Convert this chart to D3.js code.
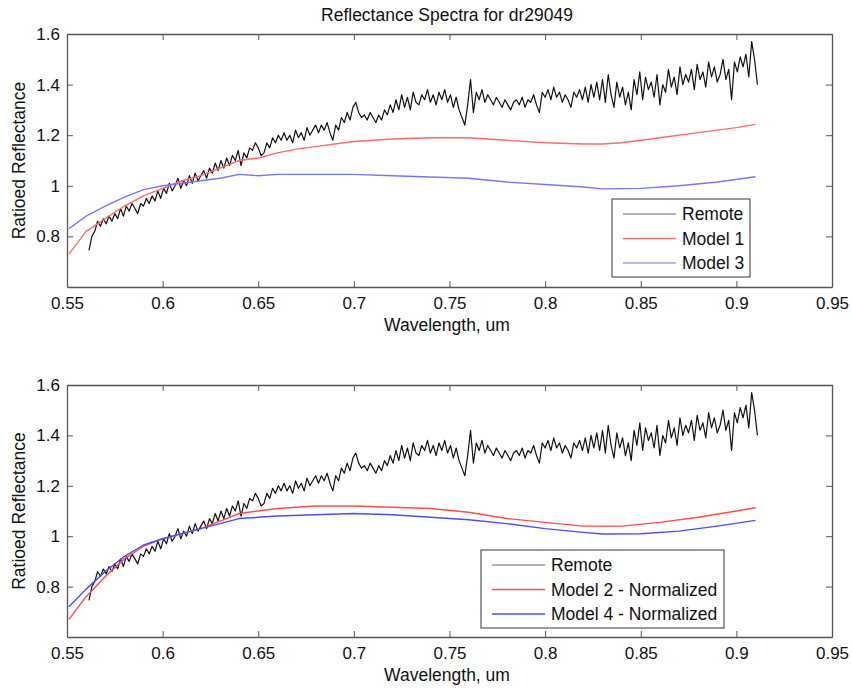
<!DOCTYPE html>
<html><head><meta charset="utf-8">
<script src="https://cdn.jsdelivr.net/npm/d3@7"></script>
<style>body{margin:0;background:#fff}svg{display:block}text{font-family:"Liberation Sans",Arial,sans-serif;fill:#111}</style>
</head><body>
<script>
const titleText = "Reflectance Spectra for dr29049";
const xLabel = "Wavelength, um";
const yLabel = "Ratioed Reflectance";
const xTicks = [0.55,0.6,0.65,0.7,0.75,0.8,0.85,0.9,0.95];
const yTicks = [0.8,1,1.2,1.4,1.6];

// Remote spectrum: uniform wavelength grid
const remoteStart = 0.5615, remoteStep = 0.0015;
const remoteValues = [
0.745,0.80,0.82,0.86,0.84,0.87,0.85,0.88,0.86,0.89,
0.87,0.91,0.88,0.92,0.90,0.93,0.91,0.89,0.93,0.92,
0.95,0.93,0.96,0.94,0.98,0.95,0.99,0.97,1.01,0.98,
1.00,1.03,0.99,1.02,1.00,1.04,1.01,1.05,1.02,1.04,
1.06,1.03,1.07,1.05,1.09,1.06,1.10,1.07,1.11,1.08,
1.12,1.10,1.14,1.08,1.13,1.11,1.15,1.14,1.17,1.15,
1.12,1.13,1.17,1.15,1.19,1.17,1.20,1.18,1.21,1.18,
1.20,1.17,1.22,1.19,1.21,1.18,1.23,1.20,1.22,1.24,
1.21,1.24,1.22,1.25,1.21,1.18,1.24,1.22,1.27,1.25,
1.29,1.26,1.31,1.33,1.29,1.27,1.28,1.26,1.29,1.27,
1.25,1.28,1.26,1.30,1.28,1.32,1.29,1.34,1.30,1.36,
1.31,1.35,1.30,1.37,1.33,1.32,1.36,1.34,1.38,1.33,
1.36,1.32,1.37,1.34,1.38,1.33,1.36,1.31,1.35,1.30,
1.27,1.24,1.32,1.42,1.29,1.37,1.34,1.38,1.33,1.36,
1.34,1.32,1.35,1.33,1.31,1.34,1.32,1.30,1.33,1.34,
1.32,1.35,1.31,1.34,1.33,1.36,1.32,1.29,1.37,1.35,
1.38,1.34,1.39,1.35,1.37,1.33,1.36,1.34,1.31,1.37,
1.35,1.38,1.34,1.39,1.33,1.40,1.35,1.41,1.34,1.42,
1.33,1.44,1.36,1.31,1.41,1.35,1.39,1.32,1.37,1.30,
1.42,1.36,1.45,1.34,1.43,1.38,1.41,1.35,1.44,1.32,
1.40,1.37,1.46,1.39,1.43,1.36,1.47,1.40,1.44,1.41,
1.46,1.38,1.48,1.42,1.45,1.39,1.49,1.43,1.47,1.41,
1.44,1.50,1.42,1.46,1.34,1.49,1.45,1.51,1.47,1.52,
1.43,1.57,1.50,1.40
];

const m1Wave = [0.551,0.56,0.57,0.58,0.59,0.60,0.61,0.62,0.63,0.64,0.65,0.66,0.67,0.68,0.69,0.70,0.72,0.74,0.76,0.78,0.80,0.82,0.83,0.84,0.86,0.88,0.90,0.91];
const m1Values = [0.73,0.82,0.87,0.92,0.96,0.99,1.02,1.04,1.07,1.10,1.11,1.13,1.145,1.155,1.165,1.175,1.185,1.19,1.19,1.18,1.17,1.165,1.165,1.17,1.19,1.21,1.23,1.243];
const m3Wave = [0.551,0.56,0.57,0.58,0.59,0.60,0.61,0.62,0.63,0.64,0.65,0.66,0.68,0.70,0.72,0.74,0.76,0.78,0.80,0.82,0.83,0.85,0.87,0.89,0.91];
const m3Values = [0.83,0.88,0.92,0.955,0.985,1.0,1.01,1.02,1.03,1.045,1.04,1.045,1.045,1.045,1.04,1.035,1.03,1.015,1.005,0.995,0.988,0.99,1.0,1.015,1.036];
const m2Wave = [0.551,0.56,0.57,0.58,0.59,0.60,0.61,0.62,0.63,0.64,0.65,0.66,0.67,0.68,0.69,0.70,0.72,0.74,0.76,0.78,0.80,0.82,0.83,0.84,0.86,0.88,0.90,0.91];
const m2Values = [0.67,0.76,0.84,0.91,0.96,0.99,1.01,1.03,1.06,1.09,1.10,1.11,1.115,1.12,1.12,1.12,1.115,1.11,1.095,1.07,1.055,1.04,1.04,1.04,1.055,1.075,1.10,1.113];
const m4Wave = [0.551,0.56,0.57,0.58,0.59,0.60,0.61,0.62,0.63,0.64,0.65,0.66,0.68,0.70,0.72,0.74,0.76,0.78,0.80,0.82,0.83,0.85,0.87,0.89,0.91];
const m4Values = [0.72,0.79,0.86,0.92,0.965,0.99,1.01,1.03,1.05,1.07,1.075,1.08,1.085,1.09,1.085,1.075,1.065,1.05,1.03,1.015,1.009,1.01,1.02,1.04,1.063];

const W = 852, H = 689;
const svg = d3.select("body").append("svg").attr("width", W).attr("height", H);

svg.append("text").attr("x", 447).attr("y", 21).attr("text-anchor","middle")
  .style("font-size","17.5px").text(titleText);

const remote = remoteValues.map((v,i)=>({x: remoteStart + i*remoteStep, y: v}));
const zip = (xs, ys) => xs.map((x,i)=>({x, y: ys[i]}));

function panel(top, bottom, series, legend) {
  const x = d3.scaleLinear().domain([0.55,0.95]).range([67,832]);
  const y = d3.scaleLinear().domain([0.6,1.6]).range([bottom, top]);
  const g = svg.append("g");
  const line = d3.line().x(d=>x(d.x)).y(d=>y(d.y));
  series.forEach(s=>{
    g.append("path").datum(s.data).attr("d", line).attr("fill","none")
      .attr("stroke", s.color).attr("stroke-width", s.width).attr("stroke-linejoin","round");
  });
  const axisColor = "#555";
  const ax = (sel)=>{ sel.selectAll("path").attr("stroke", axisColor); sel.selectAll("line").attr("stroke", axisColor); sel.selectAll("text").style("font-size","17px").attr("fill","#111"); };
  g.append("g").attr("transform",`translate(0,${bottom})`)
    .call(d3.axisBottom(x).tickValues(xTicks).tickFormat(d3.format("")).tickSizeInner(-6).tickSizeOuter(0).tickPadding(10)).call(ax);
  g.append("g").attr("transform",`translate(0,${top})`)
    .call(d3.axisTop(x).tickValues(xTicks).tickFormat("").tickSizeInner(-6).tickSizeOuter(0)).call(ax);
  g.append("g").attr("transform",`translate(67,0)`)
    .call(d3.axisLeft(y).tickValues(yTicks).tickFormat(d3.format("")).tickSizeInner(-6).tickSizeOuter(0).tickPadding(7)).call(ax);
  g.append("g").attr("transform",`translate(832,0)`)
    .call(d3.axisRight(y).tickValues(yTicks).tickFormat("").tickSizeInner(-6).tickSizeOuter(0)).call(ax);
  g.selectAll(".domain").attr("stroke", axisColor).attr("stroke-width",1.3);
  g.append("text").attr("x", 447).attr("y", bottom + 44).attr("text-anchor","middle")
    .style("font-size","17.5px").text(xLabel);
  g.append("text").attr("transform",`translate(25,${(top+bottom)/2}) rotate(-90)`).attr("text-anchor","middle")
    .style("font-size","17.5px").text(yLabel);
  // legend
  const lg = g.append("g");
  lg.append("rect").attr("x", legend.x0).attr("y", legend.y0).attr("width", legend.x1-legend.x0).attr("height", legend.y1-legend.y0)
    .attr("fill","#fff").attr("stroke","#333").attr("stroke-width",1);
  series.forEach((s,i)=>{
    const ry = legend.y0 + 15 + i*24.5;
    lg.append("line").attr("x1", legend.x0+11).attr("x2", legend.x0+64).attr("y1", ry).attr("y2", ry)
      .attr("stroke", s.legendColor).attr("stroke-width", 1.5);
    lg.append("text").attr("x", legend.x0+70).attr("y", ry+6).style("font-size","17.5px").text(s.name);
  });
}

panel(34, 287, [
  {name:"Remote", data: remote, color:"#111", legendColor:"#999", width:1.2},
  {name:"Model 1", data: zip(m1Wave,m1Values), color:"#ff6a6a", legendColor:"#ff7070", width:1.4},
  {name:"Model 3", data: zip(m3Wave,m3Values), color:"#7676ff", legendColor:"#9a9aff", width:1.4}
], {x0:612, x1:750, y0:199, y1:277});

panel(385, 637, [
  {name:"Remote", data: remote, color:"#111", legendColor:"#999", width:1.2},
  {name:"Model 2 - Normalized", data: zip(m2Wave,m2Values), color:"#ff4c4c", legendColor:"#ff4c4c", width:1.4},
  {name:"Model 4 - Normalized", data: zip(m4Wave,m4Values), color:"#4c4cff", legendColor:"#4c4cff", width:1.4}
], {x0:481, x1:724, y0:550, y1:628});
</script>
</body></html>
